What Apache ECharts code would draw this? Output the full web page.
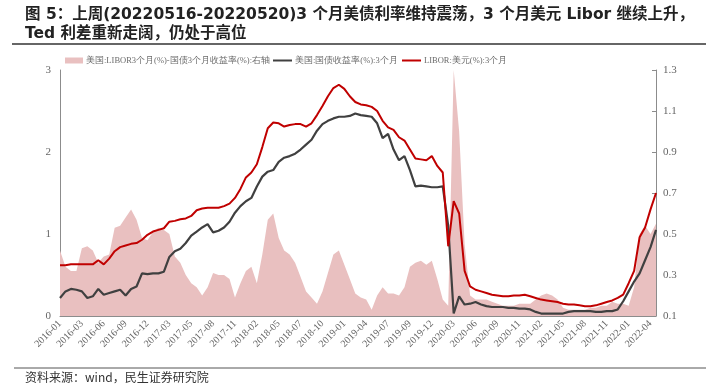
<!DOCTYPE html>
<html><head><meta charset="utf-8">
<script src="https://cdn.jsdelivr.net/npm/echarts@6/dist/echarts.min.js"></script>
<style>html,body{margin:0;padding:0;background:#fff}#c{width:719px;height:388px}</style>
</head><body><div id="c"></div>
<script>
// Tick labels of the category axis (one every 4 samples)
const tickLabels = ["2016-01","2016-03","2016-06","2016-09","2016-12","2017-03","2017-05","2017-08","2017-11","2018-02","2018-05","2018-07","2018-10","2019-01","2019-04","2019-07","2019-09","2019-12","2020-03","2020-06","2020-09","2020-11","2021-02","2021-05","2021-08","2021-11","2022-01","2022-04"];
const samplesPerTick = 4;

// 美国:LIBOR3个月(%)-国债3个月收益率(%) (right axis)
const spread = [0.42,0.34,0.32,0.32,0.43,0.44,0.42,0.36,0.39,0.40,
0.53,0.54,0.58,0.62,0.57,0.48,0.47,0.51,0.53,0.52,
0.50,0.39,0.36,0.30,0.26,0.24,0.20,0.24,0.31,0.30,
0.30,0.28,0.19,0.26,0.32,0.34,0.26,0.40,0.57,0.60,
0.48,0.42,0.40,0.36,0.29,0.22,0.19,0.16,0.22,0.31,
0.40,0.42,0.35,0.28,0.21,0.19,0.18,0.13,0.20,0.24,
0.21,0.21,0.20,0.24,0.34,0.36,0.37,0.35,0.37,0.28,
0.18,0.15,1.30,1.00,0.45,0.20,0.18,0.18,0.18,0.17,
0.16,0.15,0.15,0.15,0.16,0.16,0.16,0.18,0.20,0.21,
0.20,0.18,0.14,0.13,0.13,0.13,0.13,0.14,0.14,0.15,
0.15,0.17,0.16,0.16,0.15,0.24,0.50,0.54,0.50,0.55];

// 美国:国债收益率(%):3个月 (left axis)
const treasury = [0.22,0.30,0.33,0.32,0.30,0.22,0.24,0.33,0.26,0.28,
0.30,0.32,0.25,0.33,0.36,0.52,0.51,0.52,0.52,0.54,
0.72,0.79,0.82,0.89,0.98,1.03,1.08,1.12,1.02,1.04,
1.08,1.15,1.26,1.34,1.40,1.44,1.58,1.70,1.76,1.78,
1.88,1.93,1.95,1.98,2.03,2.09,2.15,2.26,2.34,2.38,
2.41,2.43,2.43,2.44,2.47,2.45,2.44,2.43,2.35,2.17,
2.22,2.03,1.90,1.95,1.78,1.58,1.59,1.58,1.57,1.57,
1.58,1.10,0.03,0.24,0.14,0.15,0.17,0.14,0.12,0.11,
0.11,0.11,0.10,0.10,0.09,0.09,0.08,0.05,0.03,0.03,
0.03,0.03,0.03,0.05,0.06,0.06,0.06,0.06,0.05,0.05,
0.06,0.06,0.08,0.18,0.30,0.42,0.52,0.68,0.84,1.05];

// LIBOR:美元(%):3个月 (left axis)
const libor = [0.62,0.62,0.63,0.63,0.63,0.63,0.63,0.68,0.63,0.70,
0.79,0.84,0.86,0.88,0.89,0.93,0.99,1.03,1.05,1.07,
1.15,1.16,1.18,1.19,1.22,1.29,1.31,1.32,1.32,1.32,
1.34,1.37,1.44,1.55,1.69,1.75,1.85,2.06,2.29,2.36,
2.35,2.31,2.33,2.34,2.34,2.31,2.35,2.45,2.56,2.68,
2.78,2.82,2.77,2.68,2.61,2.58,2.57,2.55,2.50,2.38,
2.30,2.27,2.18,2.14,2.03,1.92,1.91,1.90,1.95,1.83,
1.75,0.85,1.40,1.25,0.55,0.36,0.32,0.30,0.28,0.26,
0.25,0.24,0.24,0.25,0.25,0.26,0.24,0.22,0.20,0.19,
0.18,0.17,0.15,0.14,0.14,0.13,0.12,0.12,0.13,0.15,
0.17,0.19,0.22,0.26,0.40,0.55,0.96,1.08,1.30,1.50];

const names = ["美国:LIBOR3个月(%)-国债3个月收益率(%):右轴","美国:国债收益率(%):3个月","LIBOR:美元(%):3个月"];

const categories = [];
for (let i = 0; i < libor.length; i++) {
  const t = Math.floor(i / samplesPerTick), j = i % samplesPerTick;
  const base = tickLabels[Math.min(t, tickLabels.length - 1)];
  categories.push(j === 0 ? base : base + "~" + j);
}

const serif = 'Liberation Serif, serif';
const chart = echarts.init(document.getElementById('c'), null, {renderer: 'canvas'});
const legendBase = {top: 56, padding: 0, itemGap: 3, textStyle: {fontFamily: serif, fontSize: 8.5, color: '#6b6b6b', padding: [0, 0, 0, -2]}};
chart.setOption({
  animation: false,
  backgroundColor: '#fff',
  title: {
    text: '图 5：上周(20220516-20220520)3 个月美债利率维持震荡，3 个月美元 Libor 继续上升，\nTed 利差重新走阔，仍处于高位',
    left: 20, top: 0,
    textStyle: {fontFamily: 'DejaVu Sans, Noto Sans CJK SC, sans-serif', fontWeight: 'bold', fontSize: 15.5, color: '#222', lineHeight: 19}
  },
  legend: [
    Object.assign({}, legendBase, {left: 65, data: [{name: names[0], icon: 'rect'}], itemWidth: 18, itemHeight: 6}),
    Object.assign({}, legendBase, {left: 273, data: [{name: names[1], icon: 'rect'}], itemWidth: 19, itemHeight: 2}),
    Object.assign({}, legendBase, {left: 402, data: [{name: names[2], icon: 'rect'}], itemWidth: 19, itemHeight: 2})
  ],
  grid: {left: 60, right: 63, top: 70, bottom: 72, containLabel: false},
  xAxis: {
    type: 'category', data: categories, boundaryGap: false,
    axisLine: {lineStyle: {color: '#8c8c8c', width: 1}},
    axisTick: {show: true, inside: true, length: 3, interval: samplesPerTick - 1, lineStyle: {color: '#8c8c8c'}},
    axisLabel: {interval: samplesPerTick - 1, rotate: 45, fontFamily: serif, fontSize: 10, color: '#666', margin: 6,
      formatter: v => v.split('~')[0]},
    splitLine: {show: false}
  },
  yAxis: [
    {type: 'value', min: 0, max: 3, interval: 0.5, position: 'left',
     axisLine: {show: true, lineStyle: {color: '#8c8c8c'}},
     axisTick: {show: false},
     axisLabel: {fontFamily: serif, fontSize: 11, color: '#666', margin: 9,
       formatter: v => (Math.abs(v - Math.round(v)) < 1e-9 ? String(Math.round(v)) : '')},
     splitLine: {show: false}},
    {type: 'value', min: 0.1, max: 1.3, alignTicks: true, position: 'right',
     axisLine: {show: true, lineStyle: {color: '#8c8c8c'}},
     axisTick: {show: true, inside: true, length: 4, lineStyle: {color: '#8c8c8c'}},
     axisLabel: {fontFamily: serif, fontSize: 11, color: '#666', margin: 7, formatter: v => v.toFixed(1)},
     splitLine: {show: false}}
  ],
  series: [
    {name: names[0], type: 'line', yAxisIndex: 1, data: spread, symbol: 'none', z: 1,
     lineStyle: {width: 0, color: '#e9c0c0'}, itemStyle: {color: '#e9c0c0'},
     areaStyle: {color: '#e9c0c0', opacity: 1}},
    {name: names[1], type: 'line', yAxisIndex: 0, data: treasury, symbol: 'none', z: 3,
     lineStyle: {width: 2.2, color: '#404040'}, itemStyle: {color: '#404040'}},
    {name: names[2], type: 'line', yAxisIndex: 0, data: libor, symbol: 'none', z: 4,
     lineStyle: {width: 2, color: '#c00000'}, itemStyle: {color: '#c00000'}}
  ],
  graphic: [
    {type: 'line', shape: {x1: 12, y1: 44, x2: 706, y2: 44}, style: {stroke: '#333', lineWidth: 1.5}},
    {type: 'line', shape: {x1: 14, y1: 368, x2: 706, y2: 368}, style: {stroke: '#555', lineWidth: 1}},
    {type: 'text', left: 25, top: 371, style: {text: '资料来源：wind，民生证券研究院', fontFamily: 'Noto Sans CJK SC, sans-serif', fontSize: 12, fill: '#333'}}
  ]
});
</script>
</body></html>
